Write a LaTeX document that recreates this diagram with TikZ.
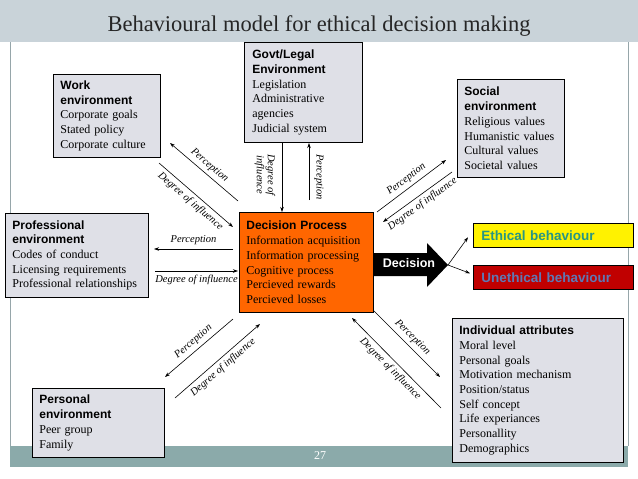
\documentclass[tikz,border=0pt]{standalone}
\usepackage{fontspec}
\setmainfont{Liberation Serif}
\setsansfont{Liberation Sans}
\usetikzlibrary{arrows.meta}
\definecolor{bandtop}{RGB}{201,211,217}
\definecolor{bandfoot}{RGB}{139,170,170}
\definecolor{frameline}{RGB}{150,166,170}
\definecolor{boxgray}{RGB}{223,224,231}
\definecolor{procorange}{RGB}{255,102,0}
\definecolor{ethtext}{RGB}{40,150,130}
\definecolor{unethfill}{RGB}{192,0,0}
\definecolor{unethtext}{RGB}{95,120,180}
\newcommand{\hd}[1]{{\sffamily\bfseries #1}}

\begin{document}
\begin{tikzpicture}[x=1pt,y=-1pt,
  font=\fontsize{12}{14.7}\selectfont,
  box/.style={draw,line width=.8pt,fill=boxgray,anchor=north west,align=left,
              inner xsep=7pt,inner ysep=3pt},
  arr/.style={line width=.6pt,-{Stealth[length=5pt,width=3.5pt]}},
  lbl/.style={font=\fontsize{10.5}{11}\selectfont\itshape,inner sep=3.5pt},
  outc/.style={draw,line width=.6pt,anchor=north west,minimum height=24pt,
               text width=144pt,inner xsep=8pt,align=left,
               font=\fontsize{13.5}{14}\selectfont\sffamily\bfseries}
]
\useasboundingbox (0,0) rectangle (638,479);
\fill[bandtop] (0,0) rectangle (638,42);
\draw[frameline,line width=.8pt] (10,42) -- (10,446) (628,42) -- (628,446);
\fill[bandfoot] (10,446) rectangle (628,467);
\node[font=\fontsize{22.5}{24}\selectfont,text=black!85] (title) at (319,26)
  {Behavioural model for ethical decision making};
\node[text=white] (pg) at (320,456) {27};

\node[box,text width=93pt,minimum height=83pt] (work) at (53,74)
  {\hd{Work\\environment}\\Corporate goals\\Stated policy\\Corporate culture};
\node[box,text width=102pt,inner xsep=8pt,minimum height=100pt] (govt) at (244,42)
  {\hd{Govt/Legal\\Environment}\\Legislation\\Administrative\\agencies\\Judicial system};
\node[box,text width=93pt,minimum height=98pt] (social) at (457,79)
  {\hd{Social\\environment}\\Religious values\\Humanistic values\\Cultural values\\Societal values};
\node[box,text width=129pt,minimum height=84pt] (prof) at (5,213)
  {\hd{Professional\\environment}\\Codes of conduct\\Licensing requirements\\Professional relationships};
\node[box,fill=procorange,text width=120pt,minimum height=100pt] (proc) at (239,212)
  {\hd{Decision Process}\\Information acquisition\\Information processing\\Cognitive process\\Percieved rewards\\Percieved losses};
\node[box,text width=157pt,minimum height=144pt] (indiv) at (452,318)
  {\hd{Individual attributes}\\Moral level\\Personal goals\\Motivation mechanism\\Position/status\\Self concept\\Life experiances\\Personallity\\Demographics};
\node[box,text width=118pt,minimum height=69pt] (pers) at (32,388)
  {\hd{Personal\\environment}\\Peer group\\Family};

\fill (proc.east |- 0,253) -- (427,253) -- (427,243) -- (448,265) coordinate (tip)
  -- (427,287) -- (427,276) -- (proc.east |- 0,276) -- cycle;
\node[text=white,font=\fontsize{12.5}{13}\selectfont\sffamily\bfseries] (dec) at (409,263) {Decision};
\node[outc,fill=yellow,text=ethtext] (eth) at (473,223) {Ethical behaviour};
\node[outc,fill=unethfill,text=unethtext] (uneth) at (473,265) {Unethical behaviour};
\draw[arr] (tip) -- ([xshift=-5pt,yshift=-2pt]eth.west);
\draw[arr] (tip) -- ([xshift=-3pt,yshift=4pt]uneth.west);

\coordinate (wkP1) at (238,201); \coordinate (wkP2) at (170,143);
\coordinate (wkD1) at (159,163); \coordinate (wkD2) at (233,227);
\coordinate (gvD1) at (282,143); \coordinate (gvD2) at (282,212);
\coordinate (gvP1) at (309,200); \coordinate (gvP2) at (309,143);
\coordinate (soP1) at (377,212); \coordinate (soP2) at (446,160);
\coordinate (soD1) at (452,172); \coordinate (soD2) at (383,222);
\coordinate (prP1) at (233,249); \coordinate (prP2) at (154,249);
\coordinate (prD1) at (155,271); \coordinate (prD2) at (238,271);
\coordinate (peP1) at (233,319); \coordinate (peP2) at (165,377);
\coordinate (peD1) at (175,398); \coordinate (peD2) at (260,324);
\coordinate (inP1) at (373,310); \coordinate (inP2) at (440,377);
\coordinate (inD1) at (441,408); \coordinate (inD2) at (352,318);

\draw[arr] (wkP1) -- node[lbl,sloped,above] {Perception} (wkP2);
\draw[arr] (wkD1) -- node[lbl,sloped,below] {Degree of influence} (wkD2);
\draw[arr] (gvD1) -- (gvD2);
\draw[arr] (gvP1) -- (gvP2);
\node[lbl,rotate=-90,align=center] (gvDl) at (265,175) {Degree of\\influence};
\node[lbl,rotate=-90] (gvPl) at (319,177) {Perception};
\draw[arr] (soP1) -- node[lbl,sloped,above] {Perception} (soP2);
\draw[arr] (soD1) -- node[lbl,sloped,below] {Degree of influence} (soD2);
\draw[arr] (prP1) -- node[lbl,above] {Perception} (prP2);
\draw[arr] (prD1) -- node[lbl,below] {Degree of influence} (prD2);
\draw[arr] (peP1) -- node[lbl,sloped,above] {Perception} (peP2);
\draw[arr] (peD1) -- node[lbl,sloped,below] {Degree of influence} (peD2);
\draw[arr] (inP1) -- node[lbl,sloped,above] {Perception} (inP2);
\draw[arr] (inD1) -- node[lbl,sloped,below] {Degree of influence} (inD2);
\end{tikzpicture}
\end{document}
